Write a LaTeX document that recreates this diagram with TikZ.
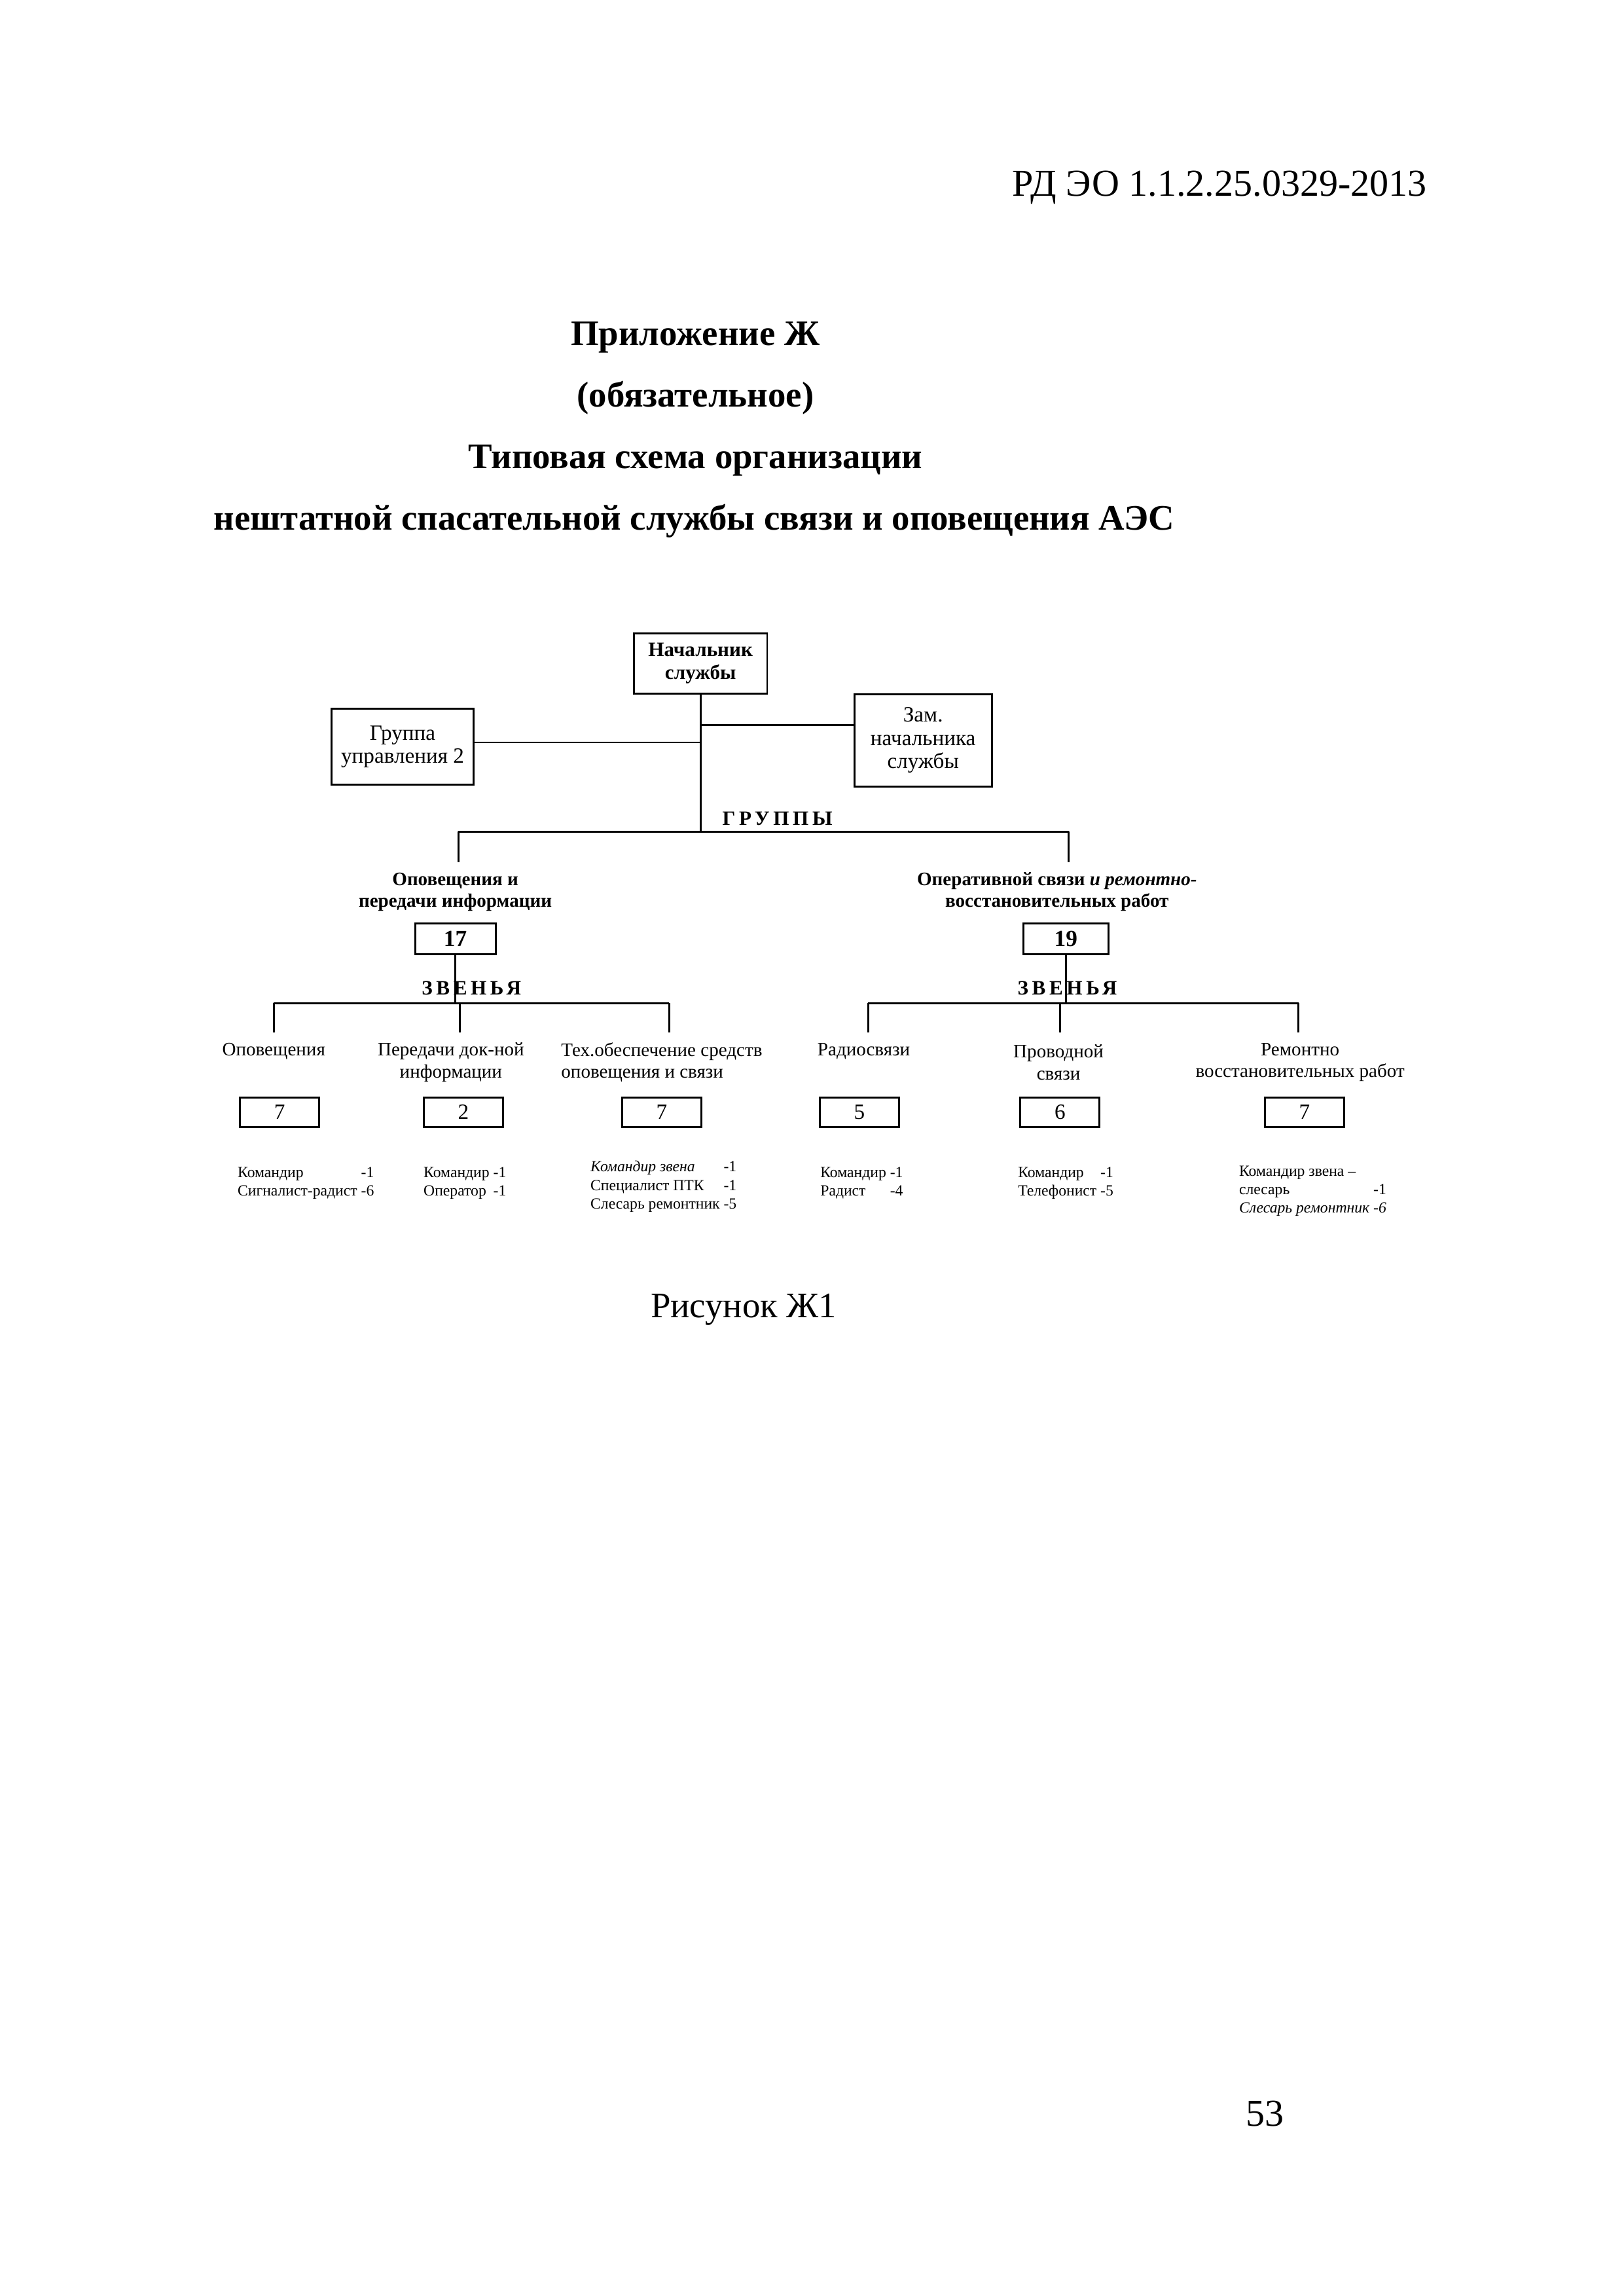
\documentclass[tikz,border=0pt]{standalone}
\usepackage{fontspec}
\setmainfont{Liberation Serif}
\newcommand\pxu{0.18936mm}
\begin{document}
\begin{tikzpicture}[x=0.18936mm, y=-0.18936mm,
  box/.style={draw, line width=0.7pt, inner sep=0pt, align=center},
  conn/.style={line width=0.7pt},
  txt/.style={inner sep=0pt, align=center},
  big/.style={font=\fontsize{14}{16}\selectfont},
  ttl/.style={font=\bfseries\fontsize{13.2}{16}\selectfont},
  boxtxt/.style={font=\fontsize{8}{8.6}\selectfont},
  grplbl/.style={font=\bfseries\fontsize{7}{8}\selectfont},
  chlbl/.style={font=\fontsize{7}{8}\selectfont},
  spaced/.style={font=\bfseries\fontsize{7.5}{8}\selectfont\addfontfeature{LetterSpace=18}},
  staff/.style={inner sep=0pt, font=\fontsize{5.7}{6.8}\selectfont, anchor=north west},
  numbox/.style={box, minimum width=54*\pxu, minimum height=20*\pxu, font=\fontsize{8}{9}\selectfont},
  bignum/.style={box, minimum height=21*\pxu, font=\bfseries\fontsize{8.5}{9}\selectfont}
]
\useasboundingbox (0,0) rectangle (1109,1568);

% header and titles
\node[txt, big, anchor=base east] (hdr) at (975,134) {РД ЭО 1.1.2.25.0329-2013};
\node[txt, ttl, anchor=base] (t1) at (475,236) {Приложение Ж};
\node[txt, ttl, anchor=base] (t2) at (475,278) {(обязательное)};
\node[txt, ttl, anchor=base] (t3) at (475,320) {Типовая схема организации};
\node[txt, ttl, anchor=base] (t4) at (474,362) {нештатной спасательной службы связи и оповещения АЭС};

% top boxes
\node[box, minimum width=91*\pxu, minimum height=41*\pxu, font=\bfseries\fontsize{7.5}{8.6}\selectfont] (nach) at (478.5,453) {Начальник\\службы};
\node[box, boxtxt, minimum width=97*\pxu, minimum height=52*\pxu] (grp) at (275,510) {Группа\\управления 2};
\node[box, boxtxt, minimum width=94*\pxu, minimum height=63*\pxu] (zam) at (630.5,505.5) {Зам.\\начальника\\службы};

\coordinate (jz) at (nach.south |- 0,495);
\coordinate (jg) at (nach.south |- 0,507);
\coordinate (tg) at (nach.south |- 0,568);
\draw[conn] (nach.south) -- (tg);
\draw[conn] (jz) -- (jz -| zam.west);
\draw[conn] (jg) -- (jg -| grp.east);

% groups
\node[txt, spaced] (gruppy) at (531,559) {ГРУППЫ};
\coordinate (gL) at (313,568);
\coordinate (gR) at (730,568);
\coordinate (gLd) at (313,589);
\coordinate (gRd) at (730,589);
\draw[conn] (gL) -- (gR);
\draw[conn] (gL) -- (gLd);
\draw[conn] (gR) -- (gRd);

\node[txt, grplbl] (glL) at (311,609) {Оповещения и\\передачи информации};
\node[txt, grplbl] (glR) at (722,609) {Оперативной связи \textit{и ремонтно-}\\восстановительных работ};

\node[bignum, minimum width=55*\pxu] (b17) at (311,641) {17};
\node[bignum, minimum width=58*\pxu] (b19) at (728,641) {19};

% zvenya left
\node[txt, spaced] (zvL) at (322,675) {ЗВЕНЬЯ};
\coordinate (zL1) at (187,685);
\coordinate (zL2) at (314,685);
\coordinate (zL3) at (457,685);
\coordinate (zL1d) at (187,705);
\coordinate (zL2d) at (314,705);
\coordinate (zL3d) at (457,705);
\draw[conn] (b17.south) -- (b17.south |- zL1);
\draw[conn] (zL1) -- (zL3);
\draw[conn] (zL1) -- (zL1d);
\draw[conn] (zL2) -- (zL2d);
\draw[conn] (zL3) -- (zL3d);

% zvenya right
\node[txt, spaced] (zvR) at (729,675) {ЗВЕНЬЯ};
\coordinate (zR1) at (593,685);
\coordinate (zR2) at (724,685);
\coordinate (zR3) at (887,685);
\coordinate (zR1d) at (593,705);
\coordinate (zR2d) at (724,705);
\coordinate (zR3d) at (887,705);
\draw[conn] (b19.south) -- (b19.south |- zR1);
\draw[conn] (zR1) -- (zR3);
\draw[conn] (zR1) -- (zR1d);
\draw[conn] (zR2) -- (zR2d);
\draw[conn] (zR3) -- (zR3d);

% child labels
\node[txt, chlbl] (c1) at (187,718) {Оповещения};
\node[txt, chlbl] (c2) at (308,725.5) {Передачи док-ной\\информации};
\node[txt, chlbl, align=left, anchor=west] (c3) at (383,725.5) {Тех.обеспечение средств\\оповещения и связи};
\node[txt, chlbl] (c4) at (590,718) {Радиосвязи};
\node[txt, chlbl] (c5) at (723,725.5) {Проводной\\связи};
\node[txt, chlbl] (c6) at (888,725.5) {Ремонтно\\восстановительных работ};

% number boxes
\node[numbox] (l1) at (191,759.5) {7};
\node[numbox] (l2) at (316.5,759.5) {2};
\node[numbox] (l3) at (452,759.5) {7};
\node[numbox] (r1) at (587,759.5) {5};
\node[numbox] (r2) at (724,759.5) {6};
\node[numbox] (r3) at (891,759.5) {7};

% staff lists
\node[staff] (s1) at (162,795) {\begin{tabular}{@{}l@{\ }r@{}}Командир & -1\\ Сигналист-радист & -6\end{tabular}};
\node[staff] (s2) at (289,795) {\begin{tabular}{@{}l@{\ }r@{}}Командир & -1\\ Оператор & -1\end{tabular}};
\node[staff] (s3) at (403,791) {\begin{tabular}{@{}l@{\ }r@{}}\textit{Командир звена} & -1\\ Специалист ПТК & -1\\ \multicolumn{2}{@{}l@{}}{Слесарь ремонтник -5}\end{tabular}};
\node[staff] (s4) at (560,795) {\begin{tabular}{@{}l@{\ }r@{}}Командир & -1\\ Радист & -4\end{tabular}};
\node[staff] (s5) at (695,795) {\begin{tabular}{@{}l@{\ }r@{}}Командир & -1\\ Телефонист & -5\end{tabular}};
\node[staff] (s6) at (846,794) {\begin{tabular}{@{}l@{}r@{}}\multicolumn{2}{@{}l@{}}{Командир звена --}\\ слесарь & -1\\ \multicolumn{2}{@{}l@{}}{\textit{Слесарь ремонтник -6}}\end{tabular}};

% caption and page number
\node[txt, font=\fontsize{13.2}{16}\selectfont, anchor=base] (cap) at (508,900) {Рисунок Ж1};
\node[txt, big, anchor=base] (pg) at (864,1452) {53};
\end{tikzpicture}
\end{document}
